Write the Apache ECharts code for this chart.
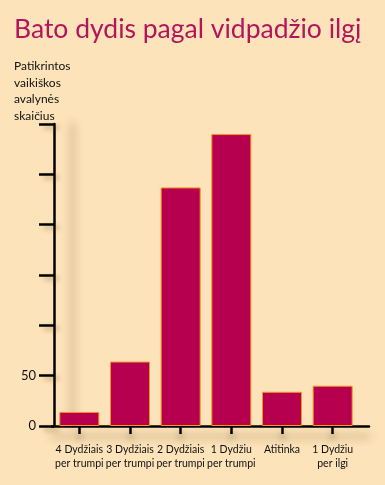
<!DOCTYPE html>
<html><head><meta charset="utf-8">
<script src="https://cdn.jsdelivr.net/npm/echarts@6/dist/echarts.min.js"></script>
<style>html,body{margin:0;padding:0;background:#fde3b9;}#c{width:385px;height:485px;}</style>
</head><body><div id="c"></div>
<script>
var categories = ["4 Dydžiais\nper trumpi", "3 Dydžiais\nper trumpi", "2 Dydžiais\nper trumpi", "1 Dydžiu\nper trumpi", "Atitinka", "1 Dydžiu\nper ilgi"];
var values = [14, 64, 237, 290, 34, 40];
var yTickLabels = [0, 50];
var titleText = "Bato dydis pagal vidpadžio ilgį";
var yAxisName = "Patikrintos\nvaikiškos\navalynės\nskaičius";

var shadowAxis = {color:'#000', width:2.5, shadowColor:'rgba(90,60,20,0.45)', shadowBlur:8};
var chart = echarts.init(document.getElementById('c'));
chart.setOption({
  backgroundColor:'#fde3b9',
  animation:false,
  title:{text:titleText, left:9, top:11, textStyle:{fontFamily:'Lato', fontWeight:'normal', fontSize:26.5, color:'#b3155c'}},
  graphic:[{type:'text', left:14, top:58, style:{text:yAxisName, font:'12px Lato', fill:'#111', lineHeight:16.5}}],
  grid:[{left:54, right:27, top:124, bottom:59},{left:52, right:16, top:124, bottom:59}],
  xAxis:[{type:'category', gridIndex:0, data:categories,
    axisLine:{show:false},
    axisTick:{show:true, alignWithLabel:true, length:8, lineStyle:{color:'#000', width:2.5, shadowColor:'rgba(90,60,20,0.45)', shadowBlur:6, shadowOffsetY:6}},
    axisLabel:{interval:0, color:'#111', fontFamily:'Lato', fontSize:10.5, lineHeight:13.5, margin:17}},
   {type:'value', gridIndex:1, min:0, max:1, axisLabel:{show:false}, axisTick:{show:false}, splitLine:{show:false},
    axisLine:{show:true, onZero:false, lineStyle:Object.assign({shadowOffsetY:10}, shadowAxis)}}],
  yAxis:[{type:'value', gridIndex:0, min:0, max:300, interval:50,
    axisLine:{show:true, lineStyle:Object.assign({shadowOffsetX:18, shadowBlur:10}, shadowAxis)},
    axisTick:{show:true, length:15, lineStyle:{color:'#000', width:2.5, shadowColor:'rgba(90,60,20,0.4)', shadowBlur:5, shadowOffsetX:5, shadowOffsetY:3}},
    axisLabel:{color:'#111', fontFamily:'Lato', fontSize:13, margin:18, formatter:function(v){return yTickLabels.indexOf(v)>=0? String(v):'';}},
    splitLine:{show:false}},
   {type:'value', gridIndex:1, show:false}],
  series:[{type:'bar', xAxisIndex:0, yAxisIndex:0, data:values, barWidth:40,
    itemStyle:{color:'#b6004f', borderColor:'#f7931e', borderWidth:1}}]
});
</script></body></html>
